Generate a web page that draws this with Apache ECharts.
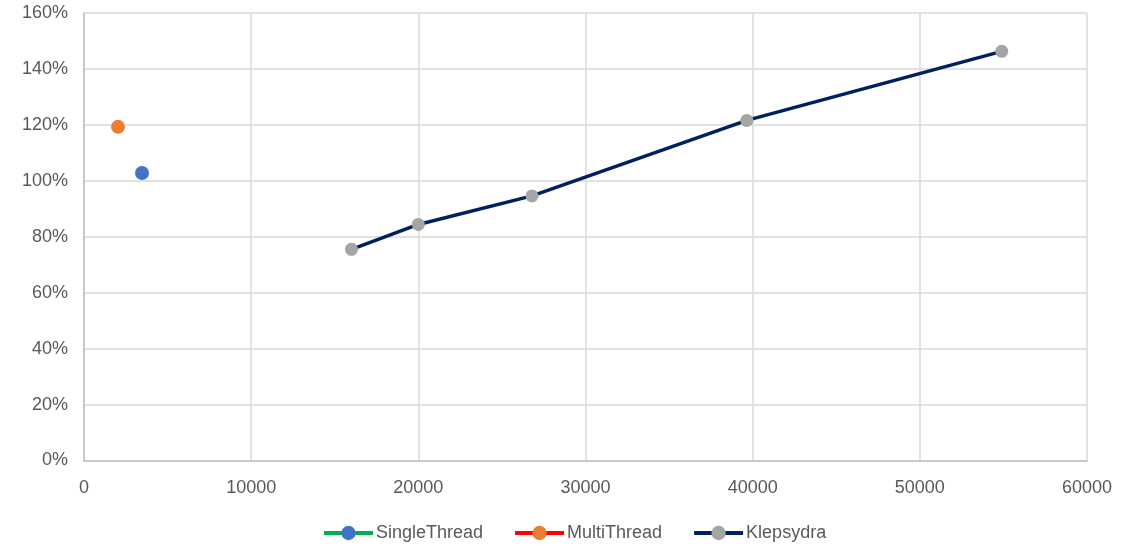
<!DOCTYPE html>
<html>
<head>
<meta charset="utf-8">
<script src="https://cdn.jsdelivr.net/npm/echarts@6/dist/echarts.min.js"></script>
<style>
  html, body { margin: 0; padding: 0; background: #fff; }
  #chart { width: 1136px; height: 546px; }
</style>
</head>
<body>
<div id="chart"></div>
<script>
// Throughput (x) vs. CPU usage (y, percent)
const singleThread = [[3470, 102.8]];
const multiThread = [[2035, 119.3]];
const klepsydra = [
  [16000, 75.5],
  [20000, 84.4],
  [26800, 94.6],
  [39650, 121.6],
  [54900, 146.3]
];
const seriesNames = ['SingleThread', 'MultiThread', 'Klepsydra'];

const font = 'Liberation Sans, Open Sans, sans-serif';
const chart = echarts.init(document.getElementById('chart'));

chart.setOption({
  animation: false,
  grid: { left: 84, right: 49, top: 13, bottom: 85.5, containLabel: false },
  xAxis: {
    type: 'value',
    min: 0, max: 60000, interval: 10000,
    axisLine: { show: true, lineStyle: { color: '#bfbfbf', width: 1.5 } },
    axisTick: { show: false },
    splitLine: { show: true, lineStyle: { color: '#d9d9d9', width: 1.5 } },
    axisLabel: { color: '#595959', fontSize: 18, fontFamily: font, margin: 19, formatter: v => String(v) }
  },
  yAxis: {
    type: 'value',
    min: 0, max: 160, interval: 20,
    axisLine: { show: true, lineStyle: { color: '#bfbfbf', width: 1.5 } },
    axisTick: { show: false },
    splitLine: { show: true, lineStyle: { color: '#d9d9d9', width: 1.5 } },
    axisLabel: { color: '#595959', fontSize: 18, fontFamily: font, margin: 16, formatter: '{value}%' }
  },
  legend: {
    bottom: -1,
    left: 317,
    itemWidth: 49,
    itemHeight: 18,
    itemGap: 30,
    lineStyle: { width: 4 },
    textStyle: { color: '#595959', fontSize: 18, fontFamily: font, padding: [0, 0, 0, -2] },
    data: seriesNames
  },
  series: [
    {
      name: seriesNames[0], type: 'line', data: singleThread,
      symbol: 'circle', symbolSize: 14,
      lineStyle: { color: '#00b050', width: 3.5 },
      itemStyle: { color: '#4472c4' }
    },
    {
      name: seriesNames[1], type: 'line', data: multiThread,
      symbol: 'circle', symbolSize: 14,
      lineStyle: { color: '#ff0000', width: 3.5 },
      itemStyle: { color: '#ed7d31' }
    },
    {
      name: seriesNames[2], type: 'line', data: klepsydra,
      symbol: 'circle', symbolSize: 13,
      lineStyle: { color: '#002060', width: 3.5 },
      itemStyle: { color: '#a5a5a5' }
    }
  ]
});
</script>
</body>
</html>
